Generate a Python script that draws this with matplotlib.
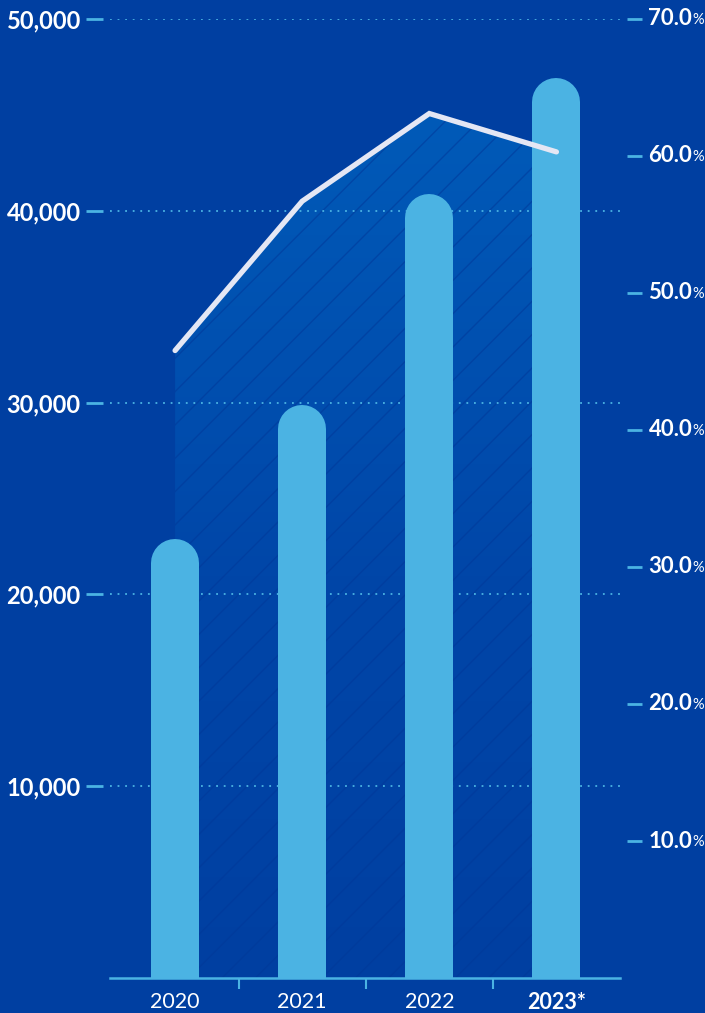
import matplotlib.pyplot as plt
import numpy as np
from matplotlib.colors import LinearSegmentedColormap

years = ["2020", "2021", "2022", "2023*"]
volume = [22900, 29900, 40900, 46900]
share = [45.8, 56.7, 63.1, 60.3]
left_ticks = [10000, 20000, 30000, 40000, 50000]
right_ticks = [10, 20, 30, 40, 50, 60, 70]

BG = "#003FA1"
BAR = "#4BB3E3"
LINE = "#E4E7F4"
FILL = "#005AB8"
TICK = "#4BB3E3"

plt.rcParams["font.family"] = ["Lato", "DejaVu Sans"]

fig = plt.figure(figsize=(7.05, 10.13), dpi=100, facecolor=BG)
rect = [110 / 705, 1 - 978 / 1013, 510 / 705, (978 - 19) / 1013]
ax = fig.add_axes(rect)
axf = ax.twinx()
axr = ax.twinx()
axf.set_zorder(0)
ax.set_zorder(1)
axr.set_zorder(2)
for a in (ax, axf, axr):
    a.patch.set_visible(False)
    for s in a.spines.values():
        s.set_visible(False)

x = np.arange(len(years))
ax.set_xlim(-0.512, 3.5)
ax.set_ylim(0, 50000)
axf.set_ylim(0, 70)
axr.set_ylim(0, 70)

# shaded area under the share line
verts = np.column_stack([np.r_[x, x[::-1]], np.r_[share, np.zeros(len(x))]])
poly = plt.Polygon(verts, closed=True, facecolor="none", edgecolor="none")
axf.add_patch(poly)
cmap = LinearSegmentedColormap.from_list("fade", [BG, "#0046A8", FILL])
grad = np.linspace(0, 1, 256).reshape(-1, 1) ** 0.9
im = axf.imshow(grad, origin="lower", cmap=cmap, aspect="auto",
                extent=[x[0], x[-1], 0, max(share)], zorder=0)
im.set_clip_path(poly)
plt.rcParams["hatch.linewidth"] = 1.0
axf.fill_between(x, 0, share, facecolor="none", edgecolor=(0.0, 0.22, 0.6, 0.55),
                 hatch="/", linewidth=0, zorder=1)
axf.set_yticks([])
axf.set_xlim(ax.get_xlim())

# grid
ax.set_axisbelow(True)
ax.yaxis.grid(True, color=TICK, linestyle=(0, (1, 3.2)), linewidth=1.3)

# rounded bars
fig.canvas.draw()
r_px = 24
inv = ax.transData.inverted()
r_data = inv.transform((0, r_px))[1] - inv.transform((0, 0))[1]
for xi, v in zip(x, volume):
    ax.plot([xi, xi], [-5000, v - r_data], color=BAR, linewidth=48 * 0.72,
            solid_capstyle="round", zorder=3)

# share line
axr.plot(x, share, color=LINE, linewidth=3.8, solid_capstyle="round",
         solid_joinstyle="miter", zorder=5)

# left axis
ax.spines["left"].set_position(("outward", 5))
ax.set_yticks(left_ticks)
ax.set_yticklabels([f"{t:,}" for t in left_ticks])
ax.tick_params(axis="y", length=12, width=2, color=TICK, labelcolor="white",
               labelsize=17, pad=4)
for lab in ax.get_yticklabels():
    lab.set_fontweight("bold")

# bottom axis
ax.spines["bottom"].set_visible(True)
ax.spines["bottom"].set_color(TICK)
ax.spines["bottom"].set_linewidth(1.8)
ax.set_xticks(x)
ax.set_xticklabels(years)
ax.set_xticks([0.5, 1.5, 2.5], minor=True)
ax.tick_params(axis="x", which="major", length=0, labelcolor="white",
               labelsize=15.5, pad=10)
ax.tick_params(axis="x", which="minor", length=8, width=1.5, color=TICK)
ax.get_xticklabels()[-1].set_fontweight("bold")

# right axis with small percent sign
axr.spines["right"].set_position(("outward", 5))
axr.set_yticks(right_ticks)
axr.set_yticklabels([])
axr.tick_params(axis="y", length=11, width=2, color=TICK, pad=4)
for t in right_ticks:
    txt = axr.annotate(f"{t:.1f}", xy=(1, t), xycoords=axr.get_yaxis_transform(),
                       xytext=(20.5, 0), textcoords="offset points", ha="left",
                       va="center", color="white", fontsize=16, fontweight="bold")
    axr.annotate("%", xy=(1, 0.1), xycoords=txt, xytext=(0, 0),
                 textcoords="offset points", ha="left", va="bottom",
                 color="white", fontsize=10.5)

fig.savefig("out.png", dpi=100, facecolor=BG)
